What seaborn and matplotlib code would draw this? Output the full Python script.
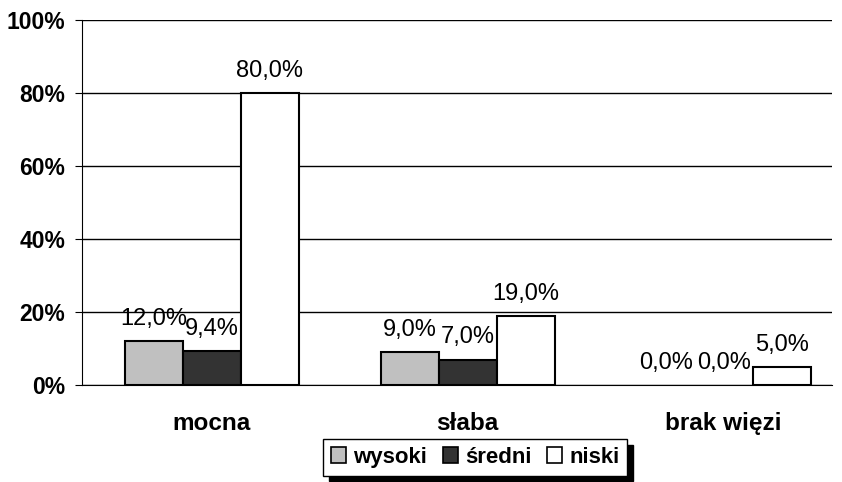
import matplotlib
matplotlib.use("Agg")
import matplotlib.pyplot as plt
import seaborn as sns
import pandas as pd

categories = ["mocna", "słaba", "brak więzi"]
levels = ["wysoki", "średni", "niski"]
wysoki = [12.0, 9.0, 0.0]
sredni = [9.4, 7.0, 0.0]
niski = [80.0, 19.0, 5.0]
colors = ["#c0c0c0", "#333333", "#ffffff"]

df = pd.DataFrame({
    "kategoria": categories * 3,
    "poziom": [l for l in levels for _ in categories],
    "wartosc": wysoki + sredni + niski,
})

sns.set_style("white")
plt.rcParams["font.family"] = ["Liberation Sans", "DejaVu Sans"]
plt.rcParams["text.color"] = "black"
plt.rcParams["xtick.color"] = "black"
plt.rcParams["ytick.color"] = "black"

fig = plt.figure(figsize=(8.42, 4.82), dpi=100)
ax = fig.add_axes([0.0974, 0.201, 0.891, 0.758])

sns.barplot(data=df, x="kategoria", y="wartosc", hue="poziom", order=categories,
            hue_order=levels, palette=colors, edgecolor="black", linewidth=1.5,
            width=0.68, gap=0, ax=ax)

# zero bars are not drawn in the original
for p in ax.patches:
    if p.get_height() == 0:
        p.set_linewidth(0)

for cont in ax.containers:
    labels = [f"{v:.1f}%".replace(".", ",") for v in cont.datavalues]
    ax.bar_label(cont, labels=labels, padding=8, fontsize=17)

ax.set_ylim(0, 100)
ax.set_xlim(-0.506, 2.424)
ax.set_yticks(range(0, 101, 20))
ax.set_yticklabels([f"{t}%" for t in range(0, 101, 20)], fontsize=16.5, fontweight="bold")
ax.set_xticklabels(categories, fontsize=17.5, fontweight="bold")
ax.yaxis.grid(True, color="black", linewidth=1)
ax.set_axisbelow(True)
ax.set_xlabel("")
ax.set_ylabel("")
for s in ["top", "right"]:
    ax.spines[s].set_visible(False)
ax.spines["left"].set_color("black")
ax.spines["bottom"].set_color("black")
ax.tick_params(axis="y", left=True, length=5, color="black", pad=7)
ax.tick_params(axis="x", bottom=False, pad=16)

leg = ax.legend(loc="center", bbox_to_anchor=(0.524, -0.198), ncol=3,
                prop={"weight": "bold", "size": 16}, frameon=True, fancybox=False,
                edgecolor="black", handlelength=0.7, handleheight=0.7, handletextpad=0.3,
                columnspacing=0.7, borderpad=0.35,
                shadow={"color": "black", "alpha": 1, "ox": 4, "oy": -4})
for h in leg.legend_handles:
    h.set_edgecolor("black")
    h.set_linewidth(1.2)

fig.savefig("out.png", dpi=100)
